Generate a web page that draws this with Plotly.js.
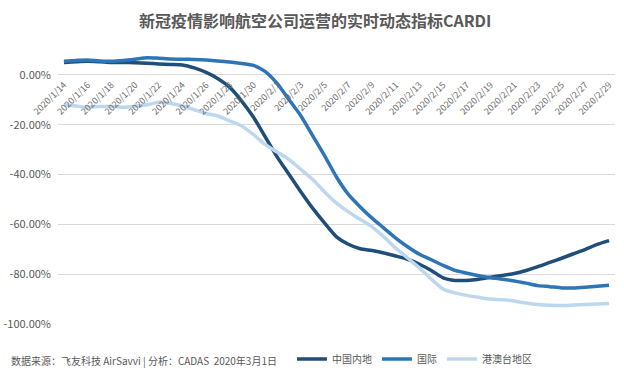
<!DOCTYPE html>
<html>
<head>
<meta charset="utf-8">
<script src="https://cdn.plot.ly/plotly-3.0.1.min.js"></script>
<style>html,body{margin:0;padding:0;background:#fff;}#chart{width:624px;height:383px;}</style>
</head>
<body>
<div id="chart"></div>
<script>
const dates = ['2020/1/14','2020/1/15','2020/1/16','2020/1/17','2020/1/18','2020/1/19','2020/1/20','2020/1/21','2020/1/22','2020/1/23',
  '2020/1/24','2020/1/25','2020/1/26','2020/1/27','2020/1/28','2020/1/29','2020/1/30','2020/1/31','2020/2/1','2020/2/2',
  '2020/2/3','2020/2/4','2020/2/5','2020/2/6','2020/2/7','2020/2/8','2020/2/9','2020/2/10','2020/2/11','2020/2/12',
  '2020/2/13','2020/2/14','2020/2/15','2020/2/16','2020/2/17','2020/2/18','2020/2/19','2020/2/20','2020/2/21','2020/2/22',
  '2020/2/23','2020/2/24','2020/2/25','2020/2/26','2020/2/27','2020/2/28','2020/2/29'];

const tickDates = ['2020/1/14','2020/1/16','2020/1/18','2020/1/20','2020/1/22','2020/1/24','2020/1/26','2020/1/28','2020/1/30',
  '2020/2/1','2020/2/3','2020/2/5','2020/2/7','2020/2/9','2020/2/11','2020/2/13','2020/2/15','2020/2/17','2020/2/19',
  '2020/2/21','2020/2/23','2020/2/25','2020/2/27','2020/2/29'];

// 中国内地 (%)
const mainland = [5.0, 5.3, 5.5, 5.3, 5.0, 5.0, 4.9, 4.7, 4.4, 4.2,
  4.0, 2.8, 1.0, -1.5, -5.0, -10.5, -17.0, -25.0, -33.0, -40.0,
  -47.0, -53.6, -59.5, -65.0, -68.0, -69.8, -70.5, -71.5, -72.7, -74.0,
  -76.0, -78.5, -81.5, -82.5, -82.5, -82.0, -81.2, -80.5, -79.7, -78.5,
  -77.0, -75.3, -73.6, -71.8, -70.0, -68.0, -66.5];

// 国际 (%)
const intl = [5.5, 5.8, 6.0, 5.6, 5.5, 5.8, 6.3, 6.9, 6.7, 6.4,
  6.3, 6.2, 6.0, 5.6, 5.2, 4.6, 3.8, 1.3, -3.5, -10.0,
  -16.5, -24.5, -32.5, -41.0, -48.0, -53.0, -57.5, -61.5, -65.5, -69.0,
  -72.0, -74.2, -76.5, -78.5, -79.6, -80.6, -81.4, -82.0, -82.7, -83.6,
  -84.6, -85.0, -85.5, -85.5, -85.2, -84.8, -84.4];

// 港澳台地区 (%)
const hkmotw = [-12.0, -12.5, -13.0, -12.7, -12.7, -13.0, -12.6, -12.0, -11.0, -11.5,
  -12.5, -14.0, -15.5, -16.5, -18.5, -20.5, -24.0, -28.0, -31.0, -34.0,
  -38.0, -42.0, -47.0, -51.5, -55.0, -58.0, -61.0, -65.0, -69.5, -73.5,
  -77.5, -82.0, -86.0, -87.5, -88.5, -89.3, -90.0, -90.3, -90.8, -91.6,
  -92.2, -92.5, -92.6, -92.4, -92.2, -92.0, -91.8];

const seriesNames = ['中国内地', '国际', '港澳台地区'];
const seriesColors = ['#1f4e79', '#2e75b6', '#bdd7ee'];
const yTickVals = [0, -20, -40, -60, -80, -100];
const yTickText = ['0.00%', '-20.00%', '-40.00%', '-60.00%', '-80.00%', '-100.00%'];

const font = '"Noto Sans CJK SC", "Noto Sans", sans-serif';
const grey = '#595959';

const traces = [mainland, intl, hkmotw].map((vals, i) => ({
  type: 'scatter', mode: 'lines', x: dates, y: vals, name: seriesNames[i],
  line: {color: seriesColors[i], width: 3.5, shape: 'spline', smoothing: 0.6},
  hoverinfo: 'x+y+name'
}));

const layout = {
  width: 624, height: 383,
  margin: {l: 58, r: 9, t: 50, b: 56},
  paper_bgcolor: '#fff', plot_bgcolor: '#fff',
  font: {family: font, color: grey},
  title: {text: '新冠疫情影响航空公司运营的实时动态指标CARDI', x: 0.505, xanchor: 'center', y: 0.945, yanchor: 'middle',
    font: {family: font, size: 16, color: grey, weight: 'bold'}},
  xaxis: {type: 'category', range: [-0.5, 46.5], anchor: 'free', position: 1/1.1,
    tickmode: 'array', tickvals: tickDates, ticktext: tickDates, tickangle: -45,
    ticks: '', showline: false, showgrid: false, zeroline: false, ticklabelstandoff: 2,
    tickfont: {family: font, size: 9, color: '#6d6d6d'}},
  yaxis: {range: [-100, 10], tickmode: 'array', tickvals: yTickVals, ticktext: yTickText,
    showgrid: true, gridcolor: '#d9d9d9', gridwidth: 1, zeroline: false, showline: false,
    ticks: '', ticklabelstandoff: 6,
    tickfont: {family: font, size: 11, color: grey}},
  showlegend: true,
  legend: {orientation: 'h', x: 0.42, xanchor: 'left', y: -0.075, yanchor: 'top',
    font: {family: font, size: 10, color: grey}, itemwidth: 30, tracegroupgap: 0,
    bgcolor: 'rgba(0,0,0,0)'},
  annotations: [{text: '数据来源：飞友科技 AirSavvi | 分析：CADAS  2020年3月1日', xref: 'paper', yref: 'paper',
    x: -0.088, xanchor: 'left', y: -0.135, yanchor: 'middle', showarrow: false,
    font: {family: font, size: 10, color: grey}}]
};

Plotly.newPlot('chart', traces, layout, {displayModeBar: false, staticPlot: true});
</script>
</body>
</html>
